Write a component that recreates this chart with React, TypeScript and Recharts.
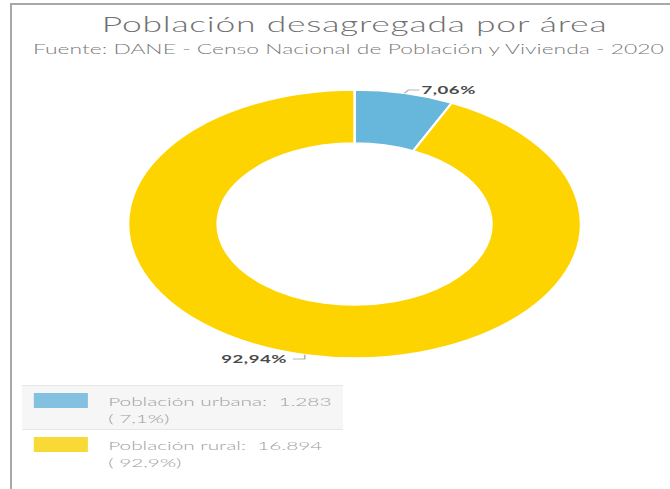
import { Legend, Pie, PieChart } from "recharts";

const categories = ["Población urbana", "Población rural"];
const values = [1283, 16894];
const sliceColors = ["#67b7dc", "#fdd400"];
const legendColors = ["#84c1e1", "#f9d935"];

const TITLE = "Población desagregada por área";
const SUBTITLE = "Fuente: DANE - Censo Nacional de Población y Vivienda - 2020";

// the reference is stretched horizontally, so everything is drawn narrow and scaled on x
const SX = 1.69;
const W = 670 / SX;
const H = 489;
const FONT = "Lato, 'Open Sans', sans-serif";

const data = categories.map((name, i) => ({ name, value: values[i], fill: sliceColors[i] }));
const total = values.reduce((a, b) => a + b, 0);

const thousands = (v: number) => String(v).replace(/\B(?=(\d{3})+(?!\d))/g, ".");
const pct = (v: number, d: number) => ((v / total) * 100).toFixed(d).replace(".", ",");

function renderLabel(props: any) {
  const { cx, cy, midAngle, outerRadius, percent } = props;
  const RAD = Math.PI / 180;
  const x0 = cx + outerRadius * Math.cos(-midAngle * RAD);
  const y0 = cy + outerRadius * Math.sin(-midAngle * RAD);
  const up = y0 < cy;
  const right = x0 >= cx;
  const x1 = right ? x0 + 2.4 : x0;
  const y1 = up ? y0 - 3.3 : y0 + 4.3;
  const x2 = right ? x1 + 6.5 : x1 - 7;
  const tx = right ? x2 + 1.2 : x2 - 3.5;
  return (
    <g>
      <polyline
        points={`${x0},${y0} ${x1},${y1} ${x2},${y1}`}
        fill="none"
        stroke="#b5b5b5"
        strokeWidth={1}
      />
      <text
        x={tx}
        y={y1}
        textAnchor={right ? "start" : "end"}
        dominantBaseline="central"
        fontFamily={FONT}
        fontSize={11}
        fontWeight={700}
        fill="#4a4a4a"
        letterSpacing={0.3}
      >
        {(percent * 100).toFixed(2).replace(".", ",")}%
      </text>
    </g>
  );
}

function LegendBox() {
  return (
    <div style={{ width: 190, fontFamily: FONT, fontSize: 12.3, fontWeight: 300, color: "#a0a0a0" }}>
      {categories.map((name, i) => (
        <div
          key={name}
          style={{
            position: "relative",
            height: i === 0 ? 43 : 46,
            background: i === 0 ? "#f6f6f6" : "transparent",
            borderTop: i === 0 ? "1px solid #e6e6e6" : "none",
            borderBottom: i === 0 ? "1px solid #e6e6e6" : "none",
          }}
        >
          <div
            style={{
              position: "absolute",
              left: 6.5,
              top: 7,
              width: 32,
              height: 15,
              background: legendColors[i],
            }}
          />
          <div style={{ position: "absolute", left: 51, top: 7, lineHeight: "17px", whiteSpace: "nowrap" }}>
            <div>
              {name}:&nbsp; {thousands(values[i])}
            </div>
            <div>( {pct(values[i], 1)}%)</div>
          </div>
        </div>
      ))}
    </div>
  );
}

export default function App() {
  return (
    <div
      style={{
        position: "absolute",
        left: 0,
        top: 0,
        width: 670,
        height: H,
        overflow: "hidden",
        background: "#fff",
      }}
    >
      <div
        style={{
          position: "absolute",
          left: 10,
          top: 3,
          width: 700,
          height: 520,
          borderTop: "2px solid #a8a8a8",
          borderLeft: "2px solid #a8a8a8",
        }}
      />
      <div
        style={{
          position: "absolute",
          left: 0,
          top: 0,
          width: W,
          height: H,
          transform: `scaleX(${SX})`,
          transformOrigin: "0 0",
        }}
      >
        <div
          style={{
            position: "absolute",
            left: 0,
            width: 419.6,
            top: 10,
            textAlign: "center",
            fontFamily: FONT,
            fontSize: 21,
            fontWeight: 300,
            lineHeight: "28px",
            color: "#707070",
            letterSpacing: 0.45,
            whiteSpace: "nowrap",
          }}
        >
          {TITLE}
        </div>
        <div
          style={{
            position: "absolute",
            left: 19.5,
            top: 40,
            fontFamily: FONT,
            fontSize: 13.5,
            fontWeight: 300,
            lineHeight: "18px",
            color: "#7a7a7a",
            letterSpacing: 0.02,
            whiteSpace: "nowrap",
          }}
        >
          {SUBTITLE}
        </div>
        <PieChart width={W} height={H} margin={{ top: 0, right: 0, bottom: 0, left: 0 }}>
          <Pie
            data={data}
            dataKey="value"
            nameKey="name"
            cx={209.8}
            cy={224}
            innerRadius={81}
            outerRadius={134}
            startAngle={90}
            endAngle={-270}
            stroke="#fff"
            strokeWidth={1.5}
            label={renderLabel}
            labelLine={false}
            isAnimationActive={false}
          />
          <Legend content={() => <LegendBox />} wrapperStyle={{ left: 13, top: 385, width: 190 }} />
        </PieChart>
      </div>
    </div>
  );
}
